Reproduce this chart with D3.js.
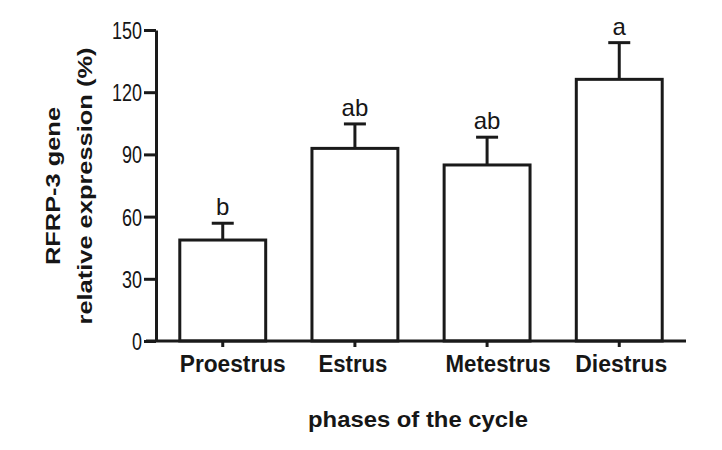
<!DOCTYPE html>
<html>
<head>
<meta charset="utf-8">
<script src="https://cdn.jsdelivr.net/npm/d3@7"></script>
<style>
  html, body { margin: 0; padding: 0; background: #ffffff; }
  svg { display: block; }
  text { font-family: "Liberation Sans", Arial, Helvetica, sans-serif; fill: #161616; }
</style>
</head>
<body>
<svg id="chart" width="722" height="450"></svg>
<script>
// ---- data ----
const categories = ["Proestrus", "Estrus", "Metestrus", "Diestrus"];
const means = [48.7, 92.9, 84.9, 126.2];
const upperErrors = [56.8, 104.7, 98.3, 143.9];
const letters = ["b", "ab", "ab", "a"];
const yTicks = [0, 30, 60, 90, 120, 150];
const yTitleLines = ["RFRP-3 gene", "relative expression (%)"];
const xTitle = "phases of the cycle";

// ---- layout ----
const svg = d3.select("#chart");
const ink = "#1a1a1a";
const x0 = 156, x1 = 686, yTop = 30, yBottom = 341;

const x = d3.scaleBand().domain(categories).range([x0, x1]).paddingInner(0.35).paddingOuter(0.18);
const y = d3.scaleLinear().domain([0, 150]).range([yBottom, yTop]);

function fit(sel, len) {
  sel.attr("textLength", len).attr("lengthAdjust", "spacingAndGlyphs");
}

// bars
svg.append("g").selectAll("rect").data(categories).join("rect")
  .attr("x", d => x(d))
  .attr("y", (d, i) => y(means[i]))
  .attr("width", x.bandwidth())
  .attr("height", (d, i) => y(0) - y(means[i]))
  .attr("fill", "#ffffff")
  .attr("stroke", ink)
  .attr("stroke-width", 3);

// error bars (upper only)
const eb = svg.append("g").attr("stroke", ink).attr("stroke-width", 3);
categories.forEach((c, i) => {
  const cx = x(c) + x.bandwidth() / 2;
  eb.append("line").attr("x1", cx).attr("x2", cx).attr("y1", y(means[i])).attr("y2", y(upperErrors[i]));
  eb.append("line").attr("x1", cx - 11).attr("x2", cx + 11).attr("y1", y(upperErrors[i])).attr("y2", y(upperErrors[i]));
});

// significance letters
svg.append("g").selectAll("text").data(categories).join("text")
  .attr("x", d => x(d) + x.bandwidth() / 2)
  .attr("y", (d, i) => y(upperErrors[i]) - 8)
  .attr("text-anchor", "middle")
  .attr("font-size", 24)
  .text((d, i) => letters[i]);

// y axis
const yAxis = svg.append("g")
  .attr("transform", `translate(${x0},0)`)
  .call(d3.axisLeft(y).tickValues(yTicks).tickSize(12).tickSizeOuter(0).tickPadding(2));
yAxis.select(".domain").attr("stroke", ink).attr("stroke-width", 3);
yAxis.selectAll(".tick line").attr("stroke", ink).attr("stroke-width", 3);
yAxis.selectAll(".tick text")
  .attr("font-size", 24)
  .attr("fill", "#161616")
  .attr("dy", "0.35em")
  .style("font-family", "'Liberation Sans', Arial, sans-serif")
  .each(function(d) { fit(d3.select(this), String(d).length * 10); });

// x axis
const labelShift = [10, -2, 11, 2];
const xAxis = svg.append("g")
  .attr("transform", `translate(0,${yBottom})`)
  .call(d3.axisBottom(x).tickSize(6).tickSizeOuter(0).tickFormat(() => ""));
xAxis.select(".domain").attr("stroke", ink).attr("stroke-width", 3)
  .attr("d", `M${x0 - 10},0H${x1}`);
xAxis.selectAll(".tick line").attr("stroke", ink).attr("stroke-width", 3);

const xLabelLen = [106, 69, 105, 92];
svg.append("g").selectAll("text").data(categories).join("text")
  .attr("x", (d, i) => x(d) + x.bandwidth() / 2 + labelShift[i])
  .attr("y", 372)
  .attr("text-anchor", "middle")
  .attr("font-size", 23)
  .attr("font-weight", "bold")
  .text(d => d)
  .each(function(d, i) { fit(d3.select(this), xLabelLen[i]); });

// x title
svg.append("text")
  .attr("x", 418).attr("y", 427)
  .attr("text-anchor", "middle")
  .attr("font-size", 22)
  .attr("font-weight", "bold")
  .text(xTitle)
  .call(fit, 220);

// y title (two lines)
const yTitlePos = [60, 92];
const yTitleLen = [158, 277];
yTitleLines.forEach((t, i) => {
  svg.append("text")
    .attr("transform", `translate(${yTitlePos[i]},186) rotate(-90)`)
    .attr("text-anchor", "middle")
    .attr("font-size", 21)
    .attr("font-weight", "bold")
    .text(t)
    .call(fit, yTitleLen[i]);
});
</script>
</body>
</html>
